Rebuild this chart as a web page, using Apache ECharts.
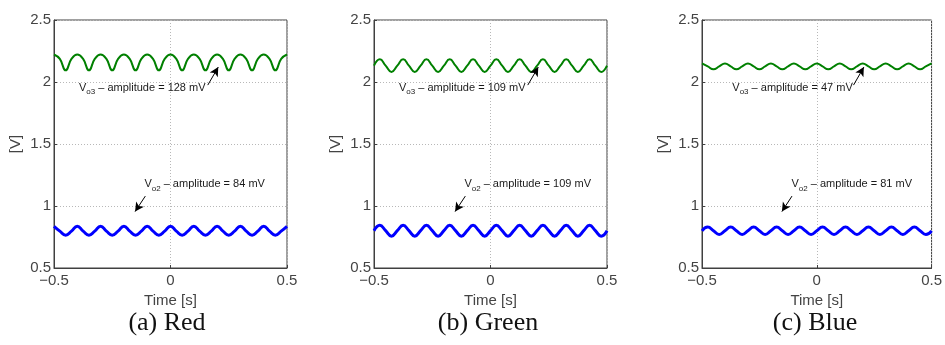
<!DOCTYPE html>
<html><head><meta charset="utf-8">
<script src="https://cdn.jsdelivr.net/npm/echarts@6/dist/echarts.min.js"></script>
<style>html,body{margin:0;padding:0;background:#fff}#c{width:945px;height:345px}</style>
</head><body><div id="c"></div>
<script>
// time samples [s]
const time = [-0.5,-0.475,-0.45,-0.425,-0.4,-0.375,-0.35,-0.325,-0.3,-0.275,-0.25,-0.225,-0.2,-0.175,-0.15,-0.125,-0.1,-0.075,-0.05,-0.025,0,
  0.025,0.05,0.075,0.1,0.125,0.15,0.175,0.2,0.225,0.25,0.275,0.3,0.325,0.35,0.375,0.4,0.425,0.45,0.475,0.5];

// (a) Red
const redVo3 = [2.222,2.186,2.094,2.186,2.222,2.186,2.094,2.186,2.222,2.186,2.094,2.186,2.222,2.186,2.094,2.186,2.222,2.186,2.094,2.186,2.222,
  2.186,2.094,2.186,2.222,2.186,2.094,2.186,2.222,2.186,2.094,2.186,2.222,2.186,2.094,2.186,2.222,2.186,2.094,2.186,2.222];
const redVo2 = [0.836,0.797,0.764,0.797,0.836,0.797,0.764,0.797,0.836,0.797,0.764,0.797,0.836,0.797,0.764,0.797,0.836,0.797,0.764,0.797,0.836,
  0.797,0.764,0.797,0.836,0.797,0.764,0.797,0.836,0.797,0.764,0.797,0.836,0.797,0.764,0.797,0.836,0.797,0.764,0.797,0.836];
// (b) Green
const greenVo3 = [2.132,2.183,2.132,2.081,2.132,2.183,2.132,2.081,2.132,2.183,2.132,2.081,2.132,2.183,2.132,2.081,2.132,2.183,2.132,2.081,2.132,
  2.183,2.132,2.081,2.132,2.183,2.132,2.081,2.132,2.183,2.132,2.081,2.132,2.183,2.132,2.081,2.132,2.183,2.132,2.081,2.132];
const greenVo2 = [0.801,0.845,0.801,0.757,0.801,0.845,0.801,0.757,0.801,0.845,0.801,0.757,0.801,0.845,0.801,0.757,0.801,0.845,0.801,0.757,0.801,
  0.845,0.801,0.757,0.801,0.845,0.801,0.757,0.801,0.845,0.801,0.757,0.801,0.845,0.801,0.757,0.801,0.845,0.801,0.757,0.801];
// (c) Blue
const blueVo3 = [2.150,2.126,2.103,2.126,2.150,2.126,2.103,2.126,2.150,2.126,2.103,2.126,2.150,2.126,2.103,2.126,2.150,2.126,2.103,2.126,2.150,
  2.126,2.103,2.126,2.150,2.126,2.103,2.126,2.150,2.126,2.103,2.126,2.150,2.126,2.103,2.126,2.150,2.126,2.103,2.126,2.150];
const blueVo2 = [0.800,0.830,0.800,0.770,0.800,0.830,0.800,0.770,0.800,0.830,0.800,0.770,0.800,0.830,0.800,0.770,0.800,0.830,0.800,0.770,0.800,
  0.830,0.800,0.770,0.800,0.830,0.800,0.770,0.800,0.830,0.800,0.770,0.800,0.830,0.800,0.770,0.800,0.830,0.800,0.770,0.800];

const captions = ['(a) Red', '(b) Green', '(c) Blue'];
const vo3Amp = ['128 mV', '109 mV', '47 mV'];
const vo2Amp = ['84 mV', '109 mV', '81 mV'];
const vo3TextAt = [[-0.393, 1.955], [-0.393, 1.955], [-0.368, 1.955]];
const vo2TextAt = [[-0.112, 1.175], [-0.112, 1.175], [-0.110, 1.175]];
const vo3Arrow = [[0.160, 1.975], [0.205, 2.120]];
const vo2Arrow = [[-0.108, 1.080], [-0.152, 0.955]];
const xTicks = [-0.5, 0, 0.5];
const yTicks = [0.5, 1, 1.5, 2, 2.5];

const vo3Sets = [redVo3, greenVo3, blueVo3];
const vo2Sets = [redVo2, greenVo2, blueVo2];

const FONT = 'Liberation Sans, Arial, Helvetica, sans-serif';
const grids = [
  {left: 54, top: 20, width: 233, height: 248},
  {left: 374, top: 20, width: 233, height: 248},
  {left: 702, top: 20, width: 232, height: 248}
];
const capX = [167, 488, 815];

function pairs(vals) { return vals.map((v, i) => [time[i], v]); }
function fmtNum(v) { return v < 0 ? '\u2212' + String(-v) : String(v); }

function label(name, amp) {
  return {
    formatter: '{v|V}{s|' + name + '}{t| \u2013 amplitude = ' + amp + '}',
    position: 'right', distance: 0,
    rich: {
      v: {fontSize: 11, fontFamily: FONT, color: '#1a1a1a', height: 22, verticalAlign: 'middle'},
      s: {fontSize: 8, fontFamily: FONT, color: '#1a1a1a', height: 22, verticalAlign: 'bottom', padding: [9, 0, 0, 0]},
      t: {fontSize: 11, fontFamily: FONT, color: '#1a1a1a', height: 22, verticalAlign: 'middle'}
    }
  };
}

const xAxis = [], yAxis = [], series = [];
grids.forEach((g, i) => {
  g.show = true; g.borderColor = '#404040'; g.borderWidth = 1; g.containLabel = false;
  xAxis.push({
    type: 'value', gridIndex: i, min: xTicks[0], max: xTicks[2], interval: 0.5,
    name: 'Time [s]', nameLocation: 'middle', nameGap: 20,
    nameTextStyle: {fontSize: 15, color: '#444', fontFamily: FONT},
    axisLine: {show: true, onZero: false, lineStyle: {color: '#404040'}},
    axisTick: {show: true, inside: true, length: 3, lineStyle: {color: '#404040'}},
    axisLabel: {fontSize: 15, color: '#444', fontFamily: FONT, margin: 5, formatter: fmtNum},
    splitLine: {show: true, lineStyle: {color: '#b8b8b8', type: [1, 2], width: 1}}
  });
  yAxis.push({
    type: 'value', gridIndex: i, min: yTicks[0], max: yTicks[4], interval: 0.5,
    name: '[V]', nameLocation: 'middle', nameGap: 31, nameRotate: 90,
    nameTextStyle: {fontSize: 15, color: '#444', fontFamily: FONT},
    axisLine: {show: true, onZero: false, lineStyle: {color: '#404040'}},
    axisTick: {show: true, inside: true, length: 3, lineStyle: {color: '#404040'}},
    axisLabel: {fontSize: 15, color: '#444', fontFamily: FONT, margin: 3, formatter: fmtNum},
    splitLine: {show: true, lineStyle: {color: '#b8b8b8', type: [1, 2], width: 1}}
  });
  series.push({
    type: 'line', xAxisIndex: i, yAxisIndex: i, data: pairs(vo3Sets[i]),
    smooth: true, showSymbol: false, symbol: 'none',
    lineStyle: {color: '#008000', width: 2}, z: 3,
    markLine: {
      silent: true, symbol: ['none', 'arrow'], symbolSize: [7, 9],
      lineStyle: {color: '#000', width: 1, type: 'solid'}, label: {show: false},
      data: [[{coord: vo3Arrow[0]}, {coord: vo3Arrow[1]}]]
    },
    markPoint: {
      silent: true, symbol: 'circle', symbolSize: 0,
      data: [{coord: vo3TextAt[i], label: label('o3', vo3Amp[i])}]
    }
  });
  series.push({
    type: 'line', xAxisIndex: i, yAxisIndex: i, data: pairs(vo2Sets[i]),
    smooth: true, showSymbol: false, symbol: 'none',
    lineStyle: {color: '#0000ff', width: 3}, z: 3,
    markLine: {
      silent: true, symbol: ['none', 'arrow'], symbolSize: [7, 9],
      lineStyle: {color: '#000', width: 1, type: 'solid'}, label: {show: false},
      data: [[{coord: vo2Arrow[0]}, {coord: vo2Arrow[1]}]]
    },
    markPoint: {
      silent: true, symbol: 'circle', symbolSize: 0,
      data: [{coord: vo2TextAt[i], label: label('o2', vo2Amp[i])}]
    }
  });
});

const chart = echarts.init(document.getElementById('c'), null, {renderer: 'canvas'});
chart.setOption({
  animation: false,
  backgroundColor: '#fff',
  grid: grids, xAxis: xAxis, yAxis: yAxis, series: series,
  graphic: captions.map((c, i) => ({
    type: 'text', x: capX[i], y: 323,
    style: {text: c, fontSize: 26, fontFamily: 'Liberation Serif, serif', fill: '#111', align: 'center', verticalAlign: 'middle'}
  }))
});
</script></body></html>
